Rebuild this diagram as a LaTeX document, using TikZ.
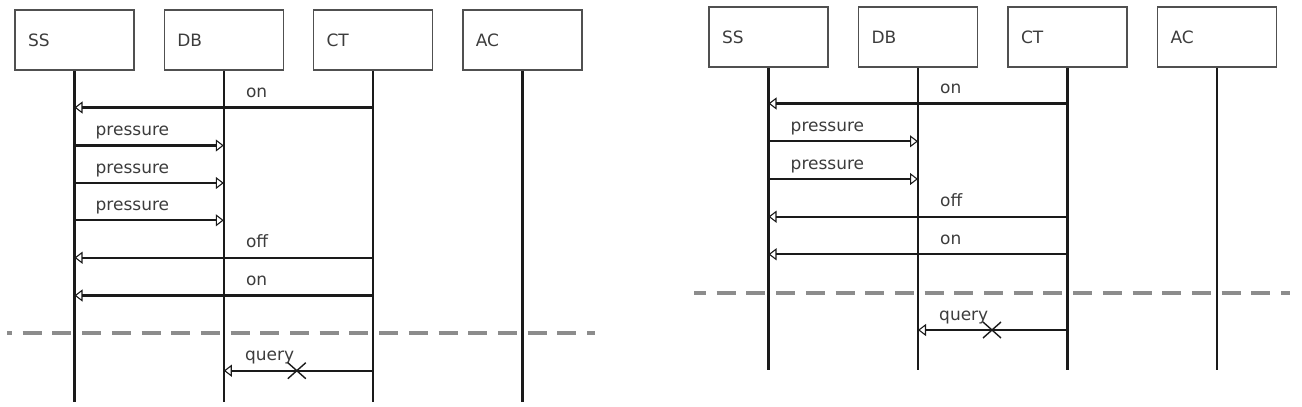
\documentclass[tikz,border=0pt]{standalone}
\usepackage{fontspec}
\setmainfont{DejaVu Sans}
\usetikzlibrary{arrows.meta,calc}
\definecolor{lineblack}{HTML}{1A1A1A}
\definecolor{boxgray}{HTML}{505050}
\definecolor{textgray}{HTML}{3C3C3C}
\definecolor{dashgray}{HTML}{8C8C8C}
\begin{document}
\begin{tikzpicture}[x=1pt,y=-1pt,
  lifebox/.style={draw=boxgray, line width=1.5pt, minimum width=119pt, minimum height=60pt,
    text width=93pt, align=left, inner xsep=13pt, inner ysep=0pt, text=textgray,
    font=\fontsize{17}{19}\selectfont},
  lifeline/.style={draw=lineblack, line width=2.4pt},
  msg/.style={draw=lineblack, line width=2.2pt,
    -{Triangle[open,length=8pt,width=12pt,line width=1.1pt]}},
  lbl/.style={anchor=base west, text=textgray, inner sep=0pt,
    font=\fontsize{17}{19}\selectfont},
  sep/.style={draw=dashgray, line width=4pt, dash pattern=on 19pt off 10.7pt},
  kill/.style={draw=lineblack, line width=1.4pt}]
\useasboundingbox (0,0) rectangle (1302,407);

% ---------------- left diagram ----------------
\node[lifebox] (lSS) at (74.5,40) {SS};
\node[lifebox] (lDB) at (223.8,40) {DB};
\node[lifebox] (lCT) at (373.1,40) {CT};
\node[lifebox] (lAC) at (522.4,40) {AC};
\coordinate (lend) at (0,402);
\foreach \n in {lSS,lDB,lCT,lAC} \draw[lifeline] (\n.south) -- (\n |- lend);

\coordinate (lr1) at (0,107.5);
\coordinate (lr2) at (0,145.5);
\coordinate (lr3) at (0,183);
\coordinate (lr4) at (0,220.3);
\coordinate (lr5) at (0,257.7);
\coordinate (lr6) at (0,295.5);
\coordinate (lr7) at (0,370.7);

\draw[msg] (lCT |- lr1) -- (lSS |- lr1);
\node[lbl] (lm1) at ($(lDB |- lr1)+(22,-10)$) {on};
\draw[msg] (lSS |- lr2) -- (lDB |- lr2);
\node[lbl] (lm2) at ($(lSS |- lr2)+(21,-10)$) {pressure};
\draw[msg] (lSS |- lr3) -- (lDB |- lr3);
\node[lbl] (lm3) at ($(lSS |- lr3)+(21,-10)$) {pressure};
\draw[msg] (lSS |- lr4) -- (lDB |- lr4);
\node[lbl] (lm4) at ($(lSS |- lr4)+(21,-10)$) {pressure};
\draw[msg] (lCT |- lr5) -- (lSS |- lr5);
\node[lbl] (lm5) at ($(lDB |- lr5)+(22,-10)$) {off};
\draw[msg] (lCT |- lr6) -- (lSS |- lr6);
\node[lbl] (lm6) at ($(lDB |- lr6)+(22,-10)$) {on};

\draw[sep, dash phase=14pt] (7,333) -- (595,333);

\draw[msg] (lCT |- lr7) -- (lDB |- lr7);
\node[lbl] (lm7) at ($(lDB |- lr7)+(21,-10)$) {query};
\coordinate (lX) at ($(lDB |- lr7)+(73,0)$);
\draw[kill] ($(lX)+(-9,-8)$) -- ($(lX)+(9,8)$);
\draw[kill] ($(lX)+(-9,8)$) -- ($(lX)+(9,-8)$);

% ---------------- right diagram ----------------
\node[lifebox] (rSS) at (768.5,37) {SS};
\node[lifebox] (rDB) at (918,37) {DB};
\node[lifebox] (rCT) at (1067.5,37) {CT};
\node[lifebox] (rAC) at (1217,37) {AC};
\coordinate (rend) at (0,369.5);
\foreach \n in {rSS,rDB,rCT,rAC} \draw[lifeline] (\n.south) -- (\n |- rend);

\coordinate (rr1) at (0,103.5);
\coordinate (rr2) at (0,141.3);
\coordinate (rr3) at (0,179);
\coordinate (rr4) at (0,216.7);
\coordinate (rr5) at (0,254.3);
\coordinate (rr6) at (0,330);

\draw[msg] (rCT |- rr1) -- (rSS |- rr1);
\node[lbl] (rm1) at ($(rDB |- rr1)+(22,-10)$) {on};
\draw[msg] (rSS |- rr2) -- (rDB |- rr2);
\node[lbl] (rm2) at ($(rSS |- rr2)+(22,-10)$) {pressure};
\draw[msg] (rSS |- rr3) -- (rDB |- rr3);
\node[lbl] (rm3) at ($(rSS |- rr3)+(22,-10)$) {pressure};
\draw[msg] (rCT |- rr4) -- (rSS |- rr4);
\node[lbl] (rm4) at ($(rDB |- rr4)+(22,-10)$) {off};
\draw[msg] (rCT |- rr5) -- (rSS |- rr5);
\node[lbl] (rm5) at ($(rDB |- rr5)+(22,-10)$) {on};

\draw[sep, dash phase=7pt] (694,292.5) -- (1290,292.5);

\draw[msg] (rCT |- rr6) -- (rDB |- rr6);
\node[lbl] (rm6) at ($(rDB |- rr6)+(21,-10)$) {query};
\coordinate (rX) at ($(rDB |- rr6)+(74,0)$);
\draw[kill] ($(rX)+(-9,-8)$) -- ($(rX)+(9,8)$);
\draw[kill] ($(rX)+(-9,8)$) -- ($(rX)+(9,-8)$);
\end{tikzpicture}
\end{document}
